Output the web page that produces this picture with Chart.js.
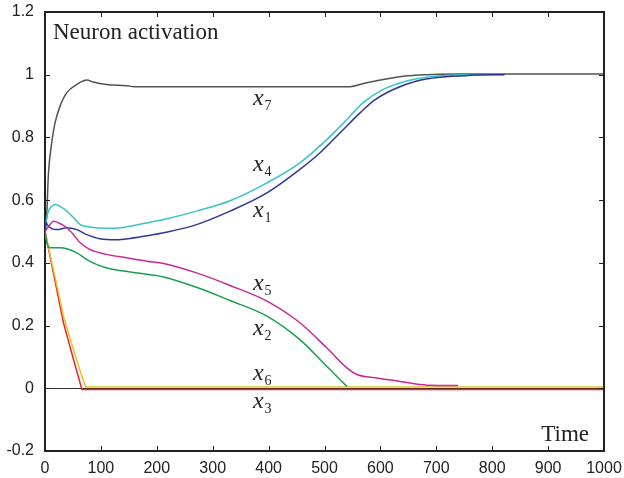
<!DOCTYPE html>
<html lang="en">

<head>
    <meta charset="UTF-8">
    <title>Neuron activation</title>
    <script src="https://cdn.jsdelivr.net/npm/chart.js@4/dist/chart.umd.min.js"></script>
    <style>
        body {
            margin: 0;
            background-color: white;
        }
        
        .chart-container {
            width: 624px;
            height: 478px;
        }
    </style>
</head>

<body>
    <div class="chart-container">
        <canvas id="activation-chart"></canvas>
    </div>

    <script>
        // [time, activation] samples for each neuron
        const x7 = [[0, 0.5], [3, 0.55], [6, 0.68], [12, 0.783], [18, 0.847], [27, 0.9], [39, 0.943], [57, 0.969], [75, 0.983], [86, 0.977], [110, 0.969], [146, 0.965], [160, 0.962], [546, 0.962], [570, 0.972], [593, 0.981], [641, 0.995], [683, 1.0], [733, 1.002], [1000, 1.002]];
        const x4 = [[0, 0.5], [3, 0.54], [6, 0.565], [12, 0.58], [18, 0.586], [27, 0.58], [39, 0.565], [51, 0.544], [63, 0.522], [80, 0.514], [110, 0.51], [140, 0.513], [170, 0.523], [212, 0.538], [271, 0.565], [331, 0.598], [397, 0.655], [456, 0.719], [504, 0.793], [540, 0.857], [569, 0.911], [605, 0.953], [647, 0.98], [694, 0.994], [760, 1.0], [820, 1.001]];
        const x1 = [[0, 0.5], [2, 0.53], [4, 0.522], [12, 0.509], [21, 0.506], [39, 0.512], [57, 0.506], [75, 0.49], [98, 0.477], [128, 0.474], [152, 0.478], [188, 0.488], [212, 0.496], [271, 0.522], [331, 0.565], [397, 0.623], [456, 0.698], [492, 0.751], [528, 0.815], [564, 0.879], [587, 0.916], [623, 0.953], [665, 0.98], [707, 0.992], [760, 0.998], [822, 1.0]];
        const x5 = [[0, 0.5], [9, 0.522], [15, 0.533], [24, 0.528], [39, 0.512], [51, 0.49], [63, 0.464], [80, 0.443], [110, 0.427], [146, 0.416], [182, 0.405], [212, 0.398], [271, 0.368], [331, 0.328], [397, 0.278], [456, 0.209], [504, 0.129], [540, 0.065], [558, 0.044], [593, 0.033], [635, 0.022], [683, 0.01], [739, 0.009]];
        const x2 = [[0, 0.5], [4, 0.46], [9, 0.448], [27, 0.448], [39, 0.445], [57, 0.432], [75, 0.41], [92, 0.395], [116, 0.381], [152, 0.371], [212, 0.355], [271, 0.322], [331, 0.28], [397, 0.23], [456, 0.155], [504, 0.07], [540, 0.006]];
        const x6 = [[0, 0.5], [15, 0.379], [33, 0.23], [51, 0.123], [66, 0.038], [73, 0.004], [1000, 0.004]];
        const x3 = [[0, 0.5], [15, 0.368], [33, 0.209], [51, 0.092], [66, -0.004], [1000, -0.004]];

        const xTicks = [0, 100, 200, 300, 400, 500, 600, 700, 800, 900, 1000];
        const yTicks = [-0.2, 0, 0.2, 0.4, 0.6, 0.8, 1, 1.2];

        // curve labels: [subscript, time, activation]
        const curveLabels = [
            ['7', 372, 0.905],
            ['4', 372, 0.692],
            ['1', 372, 0.545],
            ['5', 372, 0.315],
            ['2', 372, 0.171],
            ['6', 372, 0.028],
            ['3', 372, -0.062]
        ];

        const toPoints = arr => arr.map(p => ({ x: p[0], y: p[1] }));

        function series(data, color, smooth) {
            return {
                data: toPoints(data),
                borderColor: color,
                borderWidth: 1.5,
                pointRadius: 0,
                fill: false,
                cubicInterpolationMode: smooth ? 'monotone' : 'default',
                tension: 0
            };
        }

        // fixed axis sizes, no extra room for overhanging labels
        function fixSize(prop, size) {
            return s => {
                s[prop] = size;
                s.paddingTop = s.paddingBottom = s.paddingLeft = s.paddingRight = 0;
            };
        }

        // box border, inward ticks and text inside the axes
        const frame = {
            id: 'frame',
            afterDatasetsDraw(chart) {
                const { ctx, chartArea: a, scales } = chart;
                ctx.save();
                ctx.strokeStyle = '#222';
                ctx.lineWidth = 1;
                ctx.beginPath();
                xTicks.forEach(v => {
                    const px = Math.round(scales.x.getPixelForValue(v)) + 0.5;
                    ctx.moveTo(px, a.bottom);
                    ctx.lineTo(px, a.bottom - 5);
                    ctx.moveTo(px, a.top);
                    ctx.lineTo(px, a.top + 5);
                });
                yTicks.forEach(v => {
                    const py = Math.round(scales.y.getPixelForValue(v)) + 0.5;
                    ctx.moveTo(a.left, py);
                    ctx.lineTo(a.left + 5, py);
                    ctx.moveTo(a.right, py);
                    ctx.lineTo(a.right - 5, py);
                });
                ctx.stroke();

                ctx.lineWidth = 2;
                ctx.beginPath();
                ctx.moveTo(a.left, a.top);
                ctx.lineTo(a.right, a.top);
                ctx.lineTo(a.right, a.bottom);
                ctx.stroke();

                ctx.fillStyle = '#222';
                ctx.textBaseline = 'alphabetic';
                ctx.font = '23px "Liberation Serif"';
                ctx.textAlign = 'left';
                ctx.fillText('Neuron activation', a.left + 8, a.top + 27);
                ctx.textAlign = 'right';
                ctx.fillText('Time', a.right - 15, a.bottom - 10);

                ctx.textAlign = 'left';
                curveLabels.forEach(([sub, t, v]) => {
                    const px = scales.x.getPixelForValue(t);
                    const py = scales.y.getPixelForValue(v);
                    ctx.font = 'italic 24px "Liberation Serif"';
                    ctx.fillText('x', px, py);
                    const w = ctx.measureText('x').width;
                    ctx.font = '14px "Liberation Serif"';
                    ctx.fillText(sub, px + w + 1, py + 5);
                });
                ctx.restore();
            }
        };

        new Chart(document.getElementById('activation-chart'), {
            type: 'line',
            data: {
                datasets: [
                    series(x2, '#1c9e50', true),
                    series(x5, '#c42a9c', true),
                    series(x1, '#2e3795', true),
                    series(x4, '#38c4c6', true),
                    series(x7, '#4c5454', true),
                    series(x6, '#e8c22a', false),
                    series(x3, '#f0242c', false)
                ]
            },
            options: {
                responsive: true,
                maintainAspectRatio: false,
                animation: false,
                layout: {
                    padding: { left: 0, top: 12, right: 20, bottom: 0 }
                },
                plugins: {
                    legend: { display: false },
                    tooltip: { enabled: false }
                },
                scales: {
                    x: {
                        type: 'linear',
                        min: 0,
                        max: 1000,
                        afterFit: fixSize('height', 27),
                        afterBuildTicks: s => { s.ticks = xTicks.map(v => ({ value: v })); },
                        ticks: {
                            padding: 8,
                            color: '#222',
                            font: { family: '"Liberation Sans"', size: 16 },
                            maxRotation: 0,
                            callback: v => String(v)
                        },
                        grid: { drawOnChartArea: false, drawTicks: false },
                        border: { display: true, color: '#222', width: 2 }
                    },
                    y: {
                        min: -0.2,
                        max: 1.2,
                        afterFit: fixSize('width', 45),
                        afterBuildTicks: s => { s.ticks = yTicks.map(v => ({ value: v })); },
                        ticks: {
                            padding: 11,
                            color: '#222',
                            font: { family: '"Liberation Sans"', size: 16 },
                            callback: v => String(Math.round(v * 10) / 10)
                        },
                        grid: {
                            drawTicks: false,
                            color: c => (c.tick && Math.abs(c.tick.value) < 1e-9 ? '#333' : 'rgba(0,0,0,0)'),
                            lineWidth: 1
                        },
                        border: { display: true, color: '#222', width: 2 }
                    }
                }
            },
            plugins: [frame]
        });
    </script>
</body>

</html>
